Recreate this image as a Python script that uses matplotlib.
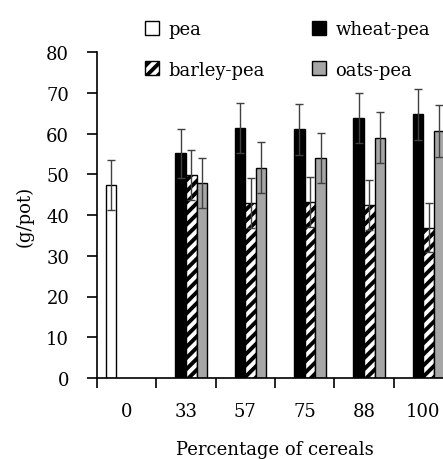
import numpy as np
import matplotlib
matplotlib.use("Agg")
import matplotlib.pyplot as plt

plt.rcParams['font.family'] = ['DejaVu Serif']
plt.rcParams['hatch.linewidth'] = 2.8

# data
categories = ['0', '33', '57', '75', '88', '100']
pea = [47.4, None, None, None, None, None]
pea_err = [6.1, None, None, None, None, None]
wheat = [None, 55.1, 61.4, 61.0, 63.8, 64.7]
wheat_err = [None, 6.1, 6.2, 6.2, 6.1, 6.2]
barley = [None, 49.9, 42.9, 43.2, 42.5, 36.9]
barley_err = [None, 6.1, 6.2, 6.1, 6.2, 6.1]
oats = [None, 47.9, 51.6, 54.0, 59.0, 60.6]
oats_err = [None, 6.2, 6.2, 6.2, 6.2, 6.3]

fig = plt.figure(figsize=(4.43, 4.60), dpi=100)
ax = fig.add_axes([97 / 443, 81 / 460, 356 / 443, 326 / 460])

w = 0.178
x = np.arange(len(categories))
series = [
    (pea, pea_err, 'pea', dict(color='white', edgecolor='black')),
    (wheat, wheat_err, 'wheat-pea', dict(color='black', edgecolor='black')),
    (barley, barley_err, 'barley-pea', dict(color='white', edgecolor='black', hatch='///')),
    (oats, oats_err, 'oats-pea', dict(color='#a6a6a6', edgecolor='black')),
]

handles = {}
for k, (vals, errs, label, style) in enumerate(series):
    idx = [i for i, v in enumerate(vals) if v is not None]
    xs = x[idx] + (k - 1.5) * w
    vs = [vals[i] for i in idx]
    es = [errs[i] for i in idx]
    b = ax.bar(xs, vs, w, linewidth=1.0, label=label, zorder=2, **style)
    ax.errorbar(xs, vs, yerr=es, fmt='none', ecolor='#404040', elinewidth=1.0,
                capsize=3.2, capthick=1.0, zorder=3)
    handles[label] = b

fs = 13
ax.set_xlim(-0.5, 5.5)
ax.set_ylim(0, 80)
ax.set_yticks(np.arange(0, 81, 10))
ax.set_xticks(x)
ax.set_xticklabels(categories)
ax.set_xticks(np.arange(-0.5, 6, 1), minor=True)
ax.tick_params(axis='x', which='major', length=0, pad=17, labelsize=fs)
ax.tick_params(axis='x', which='minor', length=7, width=1.2, direction='out')
ax.tick_params(axis='y', length=7, width=1.2, direction='out', pad=13, labelsize=fs)

for s in ['top', 'right']:
    ax.spines[s].set_visible(False)
for s in ['left', 'bottom']:
    ax.spines[s].set_linewidth(1.2)

ax.set_xlabel('Percentage of cereals', fontsize=fs, labelpad=15)
ax.set_ylabel('(g/pot)', fontsize=fs, labelpad=9)

order = ['pea', 'barley-pea', 'wheat-pea', 'oats-pea']
fig.legend([handles[o] for o in order], order, ncol=2, frameon=False,
           loc='upper left', bbox_to_anchor=(145 / 443, 1 - 21 / 460),
           fontsize=fs, handlelength=0.8, handleheight=0.8,
           handletextpad=0.5, labelspacing=1.25, columnspacing=2.6,
           borderpad=0, borderaxespad=0)

fig.savefig('out.png', dpi=100)
